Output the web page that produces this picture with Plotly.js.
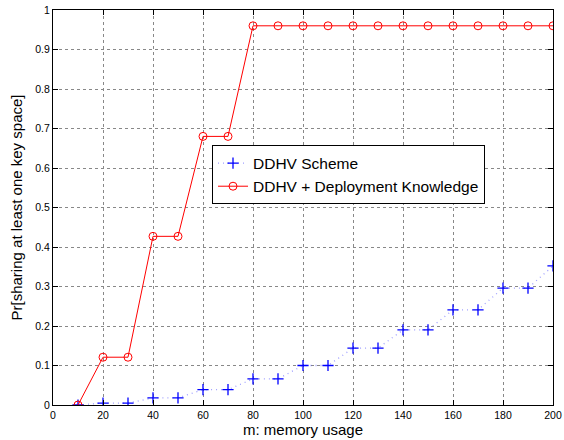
<!DOCTYPE html>
<html><head><meta charset="utf-8">
<script src="https://cdn.plot.ly/plotly-3.0.1.min.js"></script>
<style>html,body{margin:0;padding:0;background:#fff}</style>
</head><body><div id="chart" style="width:564px;height:440px"></div>
<script>
const memory = [10,20,30,40,50,60,70,80,90,100,110,120,130,140,150,160,170,180,190,200];
const ddhvScheme = [0,0.005,0.005,0.018,0.018,0.039,0.039,0.066,0.066,0.1,0.1,0.144,0.144,0.19,0.19,0.241,0.241,0.296,0.296,0.352];
const ddhvDeploy = [0,0.121,0.121,0.427,0.427,0.68,0.68,0.96,0.96,0.96,0.96,0.96,0.96,0.96,0.96,0.96,0.96,0.96,0.96,0.96];
const seriesNames = ['DDHV Scheme','DDHV + Deployment Knowledge'];
const xTitle = 'm: memory usage';
const yTitle = 'Pr[sharing at least one key space]';

const font = 'Liberation Sans, Arial, sans-serif';
const traces = [
  {x: memory, y: ddhvScheme, name: seriesNames[0], type:'scatter', mode:'lines+markers',
   line:{color:'rgba(80,80,255,0.55)', width:1.3, dash:'1px,4px'},
   marker:{symbol:'cross-thin', size:8, line:{color:'#0000ff', width:1.3}, color:'#0000ff'}},
  {x: memory, y: ddhvDeploy, name: seriesNames[1], type:'scatter', mode:'lines+markers',
   line:{color:'#ff0000', width:1},
   marker:{symbol:'circle-open', size:8, color:'#ff0000', line:{width:1}}}
];
const axisCommon = {
  showline:true, linecolor:'#000', linewidth:1, mirror:'ticks',
  ticks:'inside', ticklen:5, tickcolor:'#000',
  showgrid:true, gridcolor:'#888', griddash:'dot', gridwidth:1,
  zeroline:false, tickfont:{family:font, size:10.5, color:'#000'}
};
const layout = {
  width:564, height:440,
  margin:{l:53, r:11, t:10, b:35},
  paper_bgcolor:'#fff', plot_bgcolor:'#fff',
  font:{family:font, color:'#000'},
  showlegend:true,
  legend:{x:0.318, y:0.657, xanchor:'left', yanchor:'top', bgcolor:'#fff',
    bordercolor:'#000', borderwidth:1, font:{family:font, size:15.5, color:'#000'},
    tracegroupgap:0, itemwidth:30},
  xaxis: Object.assign({}, axisCommon, {range:[0,200], tickvals:[0,20,40,60,80,100,120,140,160,180,200],
    title:{text:xTitle, font:{family:font, size:15}, standoff:3}}),
  yaxis: Object.assign({}, axisCommon, {range:[0,1], tickvals:[0,0.1,0.2,0.3,0.4,0.5,0.6,0.7,0.8,0.9,1],
    title:{text:yTitle, font:{family:font, size:15}, standoff:9}})
};
Plotly.newPlot('chart', traces, layout, {displayModeBar:false});
</script></body></html>
